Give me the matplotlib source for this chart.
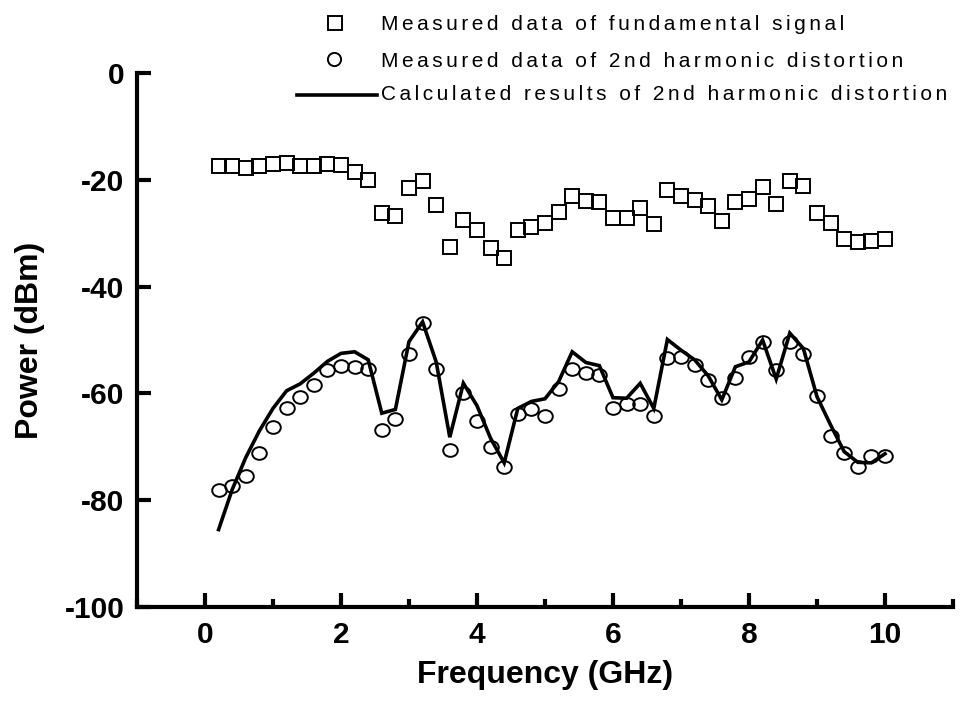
import matplotlib
matplotlib.use('Agg')
import matplotlib.pyplot as plt
from matplotlib.lines import Line2D
from matplotlib.path import Path
from matplotlib.transforms import Affine2D
from matplotlib.ticker import MultipleLocator

plt.rcParams['font.family'] = ['Liberation Sans', 'DejaVu Sans']
plt.rcParams['axes.unicode_minus'] = False

# frequency points (GHz)
freq = [0.2, 0.4, 0.6, 0.8, 1.0, 1.2, 1.4, 1.6, 1.8, 2.0,
        2.2, 2.4, 2.6, 2.8, 3.0, 3.2, 3.4, 3.6, 3.8, 4.0,
        4.2, 4.4, 4.6, 4.8, 5.0, 5.2, 5.4, 5.6, 5.8, 6.0,
        6.2, 6.4, 6.6, 6.8, 7.0, 7.2, 7.4, 7.6, 7.8, 8.0,
        8.2, 8.4, 8.6, 8.8, 9.0, 9.2, 9.4, 9.6, 9.8, 10.0]

# fundamental power, measured (dBm)
fund = [-17.5, -17.5, -17.8, -17.5, -17.0, -16.9, -17.4, -17.4, -17.0, -17.2,
        -18.5, -20.0, -26.2, -26.8, -21.6, -20.2, -24.8, -32.5, -27.5, -29.4,
        -32.8, -34.7, -29.4, -28.8, -28.0, -26.0, -23.0, -23.9, -24.2, -27.2,
        -27.2, -25.3, -28.3, -21.9, -23.0, -23.8, -24.9, -27.8, -24.2, -23.5,
        -21.3, -24.5, -20.3, -21.2, -26.2, -28.0, -31.0, -31.6, -31.5, -31.0]

# 2nd harmonic, measured (dBm)
harm = [-78.0, -77.3, -75.5, -71.2, -66.3, -62.8, -60.6, -58.4, -55.7, -54.9,
        -55.0, -55.5, -66.9, -64.7, -52.6, -46.9, -55.5, -70.5, -60.0, -65.2,
        -70.0, -73.8, -63.9, -63.0, -64.2, -59.2, -55.4, -56.1, -56.6, -62.7,
        -62.0, -61.9, -64.2, -53.4, -53.2, -54.7, -57.5, -60.9, -57.2, -53.2,
        -50.3, -55.7, -50.3, -52.7, -60.5, -68.0, -71.2, -73.8, -71.8, -71.7]

# 2nd harmonic, calculated (dBm)
calc = [-85.5, -78.0, -72.0, -67.0, -62.8, -59.5, -58.2, -56.2, -54.0, -52.5,
        -52.2, -53.7, -63.7, -63.0, -50.3, -46.6, -54.1, -68.2, -58.1, -62.3,
        -68.4, -73.0, -62.8, -61.5, -61.0, -57.8, -52.2, -54.2, -54.8, -60.8,
        -60.9, -58.1, -62.8, -49.9, -51.9, -53.7, -56.7, -61.2, -55.0, -54.1,
        -50.0, -57.3, -48.7, -51.6, -60.6, -65.9, -70.9, -72.9, -73.0, -71.3]

labels = ['Measured data of fundamental signal',
          'Measured data of 2nd harmonic distortion',
          'Calculated results of 2nd harmonic distortion']

# slightly wide ellipse for the harmonic markers
ellipse = Path.unit_circle().transformed(Affine2D().scale(1.15, 1.0))


def spaced(s):
    # widen letter spacing with hair spaces
    return '\u200a\u200a'.join(s)


fig = plt.figure(figsize=(9.6, 7.07), dpi=100)
ax = fig.add_axes([0.1427, 0.1414, 0.85, 0.7553])

ax.plot(freq, fund, ls='none', marker='s', ms=10.5, mfc='none', mec='black', mew=1.4)
ax.plot(freq, harm, ls='none', marker=ellipse, ms=10.5, mfc='none', mec='black', mew=1.4)
ax.plot(freq, calc, color='black', lw=2.6, solid_joinstyle='miter')

ax.set_xlim(-1, 11)
ax.set_ylim(-100, 0)
ax.xaxis.set_major_locator(MultipleLocator(2))
ax.xaxis.set_minor_locator(MultipleLocator(1))
ax.yaxis.set_major_locator(MultipleLocator(20))

for side in ['top', 'right']:
    ax.spines[side].set_visible(False)
for side in ['left', 'bottom']:
    ax.spines[side].set_linewidth(3)

ax.tick_params(which='major', direction='in', length=10, width=3, labelsize=21.5)
ax.tick_params(which='minor', direction='in', length=6, width=3)
ax.tick_params(axis='y', pad=9)
ax.tick_params(axis='x', pad=10)
for lab in ax.get_xticklabels() + ax.get_yticklabels():
    lab.set_fontweight('bold')

ax.set_xlabel('Frequency (GHz)', fontsize=23, fontweight='bold', labelpad=8)
ax.set_ylabel('Power (dBm)', fontsize=23, fontweight='bold', labelpad=14)

# legend drawn by hand at the top of the figure
def fx(px):
    return px / 960


def fy(py):
    return 1 - py / 707


fig.add_artist(Line2D([fx(335)], [fy(22.5)], marker='s', ms=9.5, mfc='none', mec='black', mew=1.4,
                      transform=fig.transFigure))
fig.add_artist(Line2D([fx(334)], [fy(59)], marker='o', ms=9.5, mfc='none', mec='black', mew=1.4,
                      transform=fig.transFigure))
fig.add_artist(Line2D([fx(297), fx(377)], [fy(95), fy(95)], color='black', lw=2.6,
                      transform=fig.transFigure))
for py, text in zip([29.5, 67, 100.5], labels):
    fig.text(fx(381), fy(py), spaced(text), fontsize=15, ha='left', va='baseline')

fig.savefig('out.png', dpi=100)
